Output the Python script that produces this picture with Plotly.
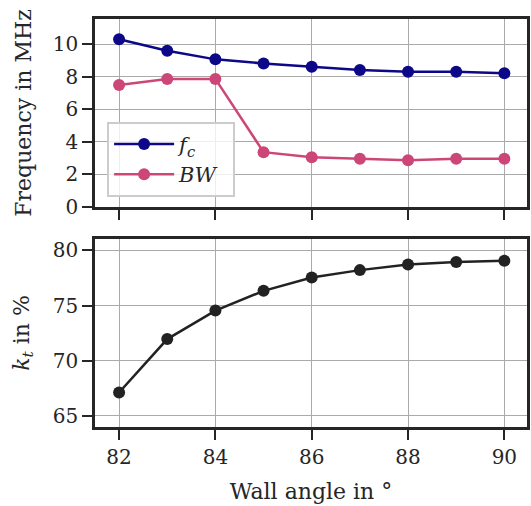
import plotly.graph_objects as go
from plotly.subplots import make_subplots

angles = [82, 83, 84, 85, 86, 87, 88, 89, 90]
fc = [10.3, 9.6, 9.07, 8.82, 8.62, 8.41, 8.31, 8.31, 8.21]
bw = [7.49, 7.87, 7.87, 3.37, 3.06, 2.96, 2.87, 2.96, 2.96]
kt = [67.13, 71.97, 74.55, 76.34, 77.55, 78.22, 78.73, 78.95, 79.06]

x_ticks = [82, 84, 86, 88, 90]
top_ticks = [0, 2, 4, 6, 8, 10]
bot_ticks = [65, 70, 75, 80]

FONT = "DejaVu Serif"
FS = 20
FS_TITLE = 22
C_FC = "#0d0887"
C_BW = "#cc4778"
C_KT = "#222222"
TXT = "#262626"

fig = make_subplots(rows=2, cols=1, shared_xaxes=False, vertical_spacing=0.0785)

fig.add_trace(go.Scatter(x=angles, y=fc, mode="lines+markers", name="<i>f</i><sub><i>c</i></sub>\u2002",
                         line=dict(color=C_FC, width=2.5), marker=dict(size=12, color=C_FC)), row=1, col=1)
fig.add_trace(go.Scatter(x=angles, y=bw, mode="lines+markers", name="<i>BW</i>\u2002",
                         line=dict(color=C_BW, width=2.5), marker=dict(size=12, color=C_BW)), row=1, col=1)
fig.add_trace(go.Scatter(x=angles, y=kt, mode="lines+markers", showlegend=False,
                         line=dict(color=C_KT, width=2.5), marker=dict(size=12, color=C_KT)), row=2, col=1)

axis_common = dict(showline=True, mirror=True, linewidth=2.5, linecolor=TXT,
                   showgrid=True, gridcolor="#aaaaaa", gridwidth=1.3,
                   ticks="outside", ticklen=10, tickwidth=1.5, tickcolor=TXT,
                   tickfont=dict(family=FONT, size=FS, color=TXT), zeroline=False)

fig.update_xaxes(**axis_common, range=[81.5, 90.47], tickvals=x_ticks)
fig.update_xaxes(showticklabels=False, row=1, col=1)
fig.update_xaxes(ticktext=[str(v) for v in x_ticks], title=dict(text="Wall angle in °", standoff=16,
                 font=dict(family=FONT, size=FS_TITLE, color=TXT)), row=2, col=1)
fig.update_yaxes(**axis_common)
fig.update_yaxes(range=[0, 11.55], tickvals=top_ticks,
                 title=dict(text="Frequency in MHz", standoff=16, font=dict(family=FONT, size=FS_TITLE, color=TXT)),
                 row=1, col=1)
fig.update_yaxes(range=[64.0, 81.04], tickvals=bot_ticks,
                 title=dict(text="<i>k</i><sub><i>t</i></sub> in %", standoff=18, font=dict(family=FONT, size=FS_TITLE, color=TXT)),
                 row=2, col=1)

fig.update_layout(
    width=531, height=506,
    margin=dict(l=95, r=1, t=19, b=79),
    paper_bgcolor="white", plot_bgcolor="white",
    font=dict(family=FONT, size=FS, color=TXT),
    legend=dict(x=0.028, y=0.748, xanchor="left", yanchor="top",
                bgcolor="rgba(255,255,255,0.8)", bordercolor="#cccccc", borderwidth=2,
                font=dict(family=FONT, size=21), itemwidth=60, tracegroupgap=0),
)

fig.write_html("out.html", config={"displayModeBar": False},
               post_script="document.body.style.margin='0';document.body.style.overflow='hidden';")
